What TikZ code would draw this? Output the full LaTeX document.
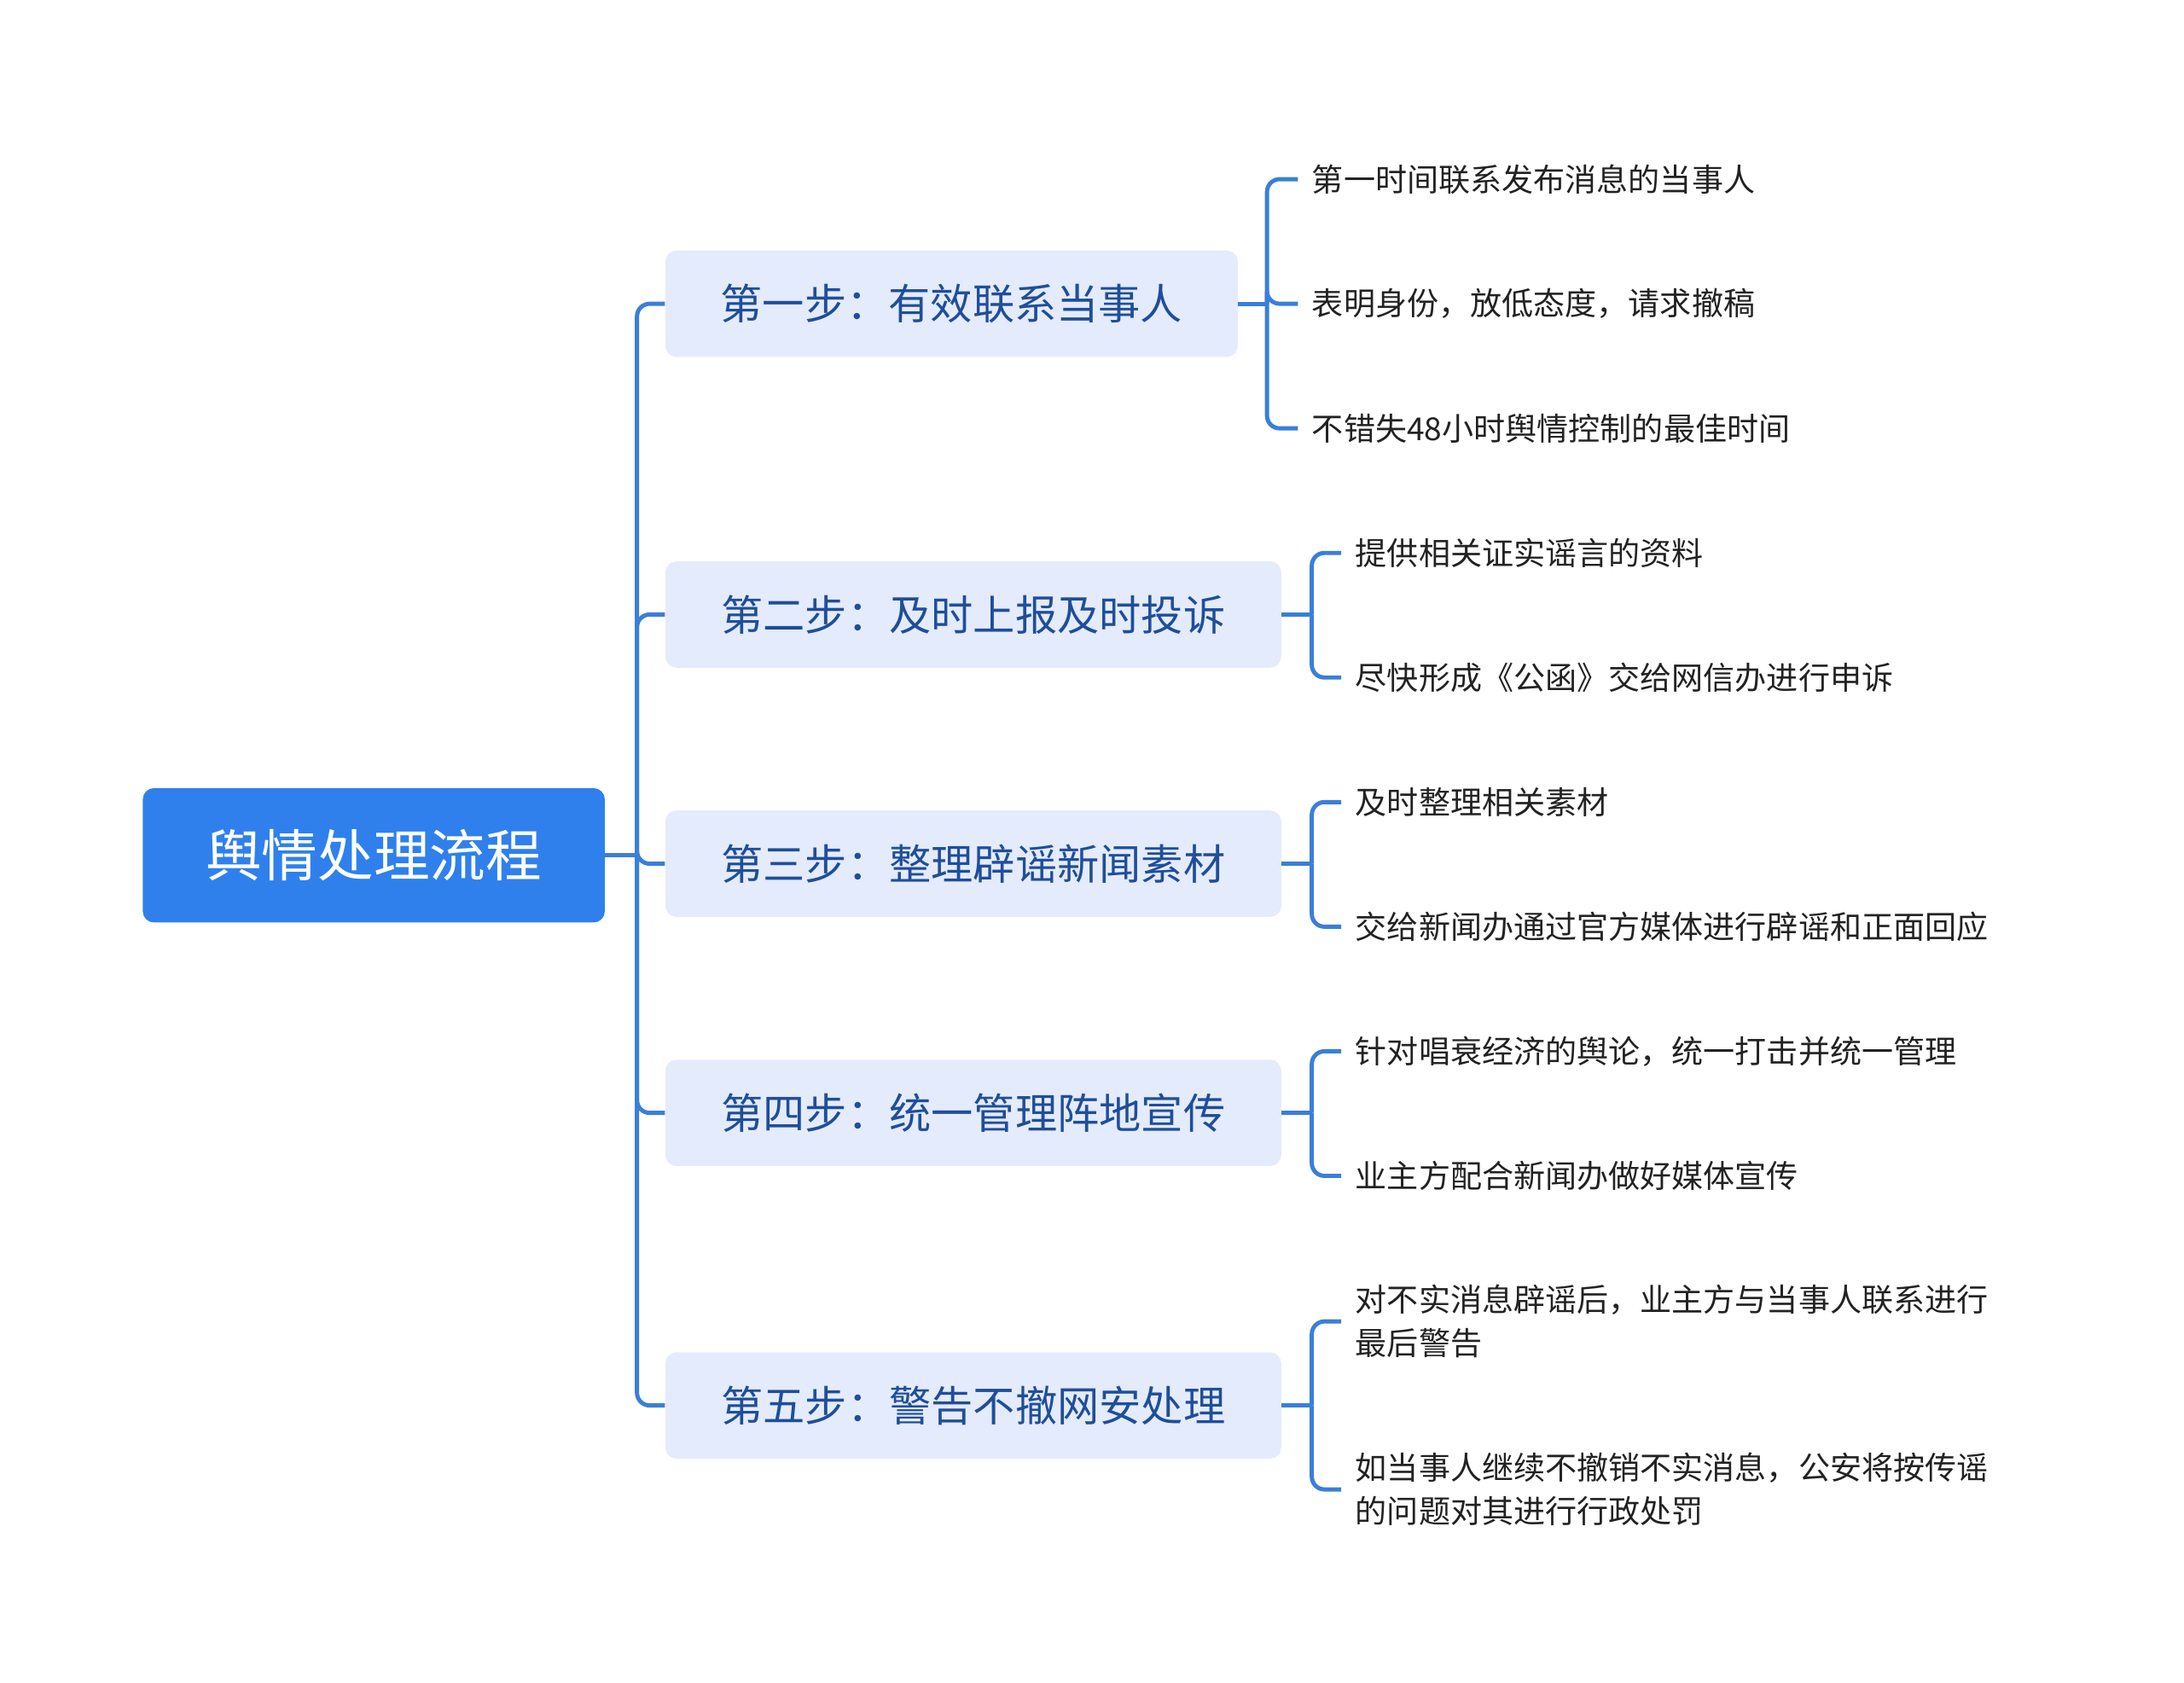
\documentclass[tikz,border=0pt]{standalone}
\usepackage{fontspec}
\setmainfont{Noto Sans CJK SC}
\begin{document}
\begin{tikzpicture}[x=1pt,y=-1pt,
  conn/.style={draw=linec,line width=3pt,rounded corners=9pt},
  rootbox/.style={fill=rootc,rounded corners=8pt,text=white,font=\fontsize{40}{48}\selectfont,minimum width=330pt,minimum height=96pt,inner sep=0pt},
  brbox/.style={fill=brc,rounded corners=8pt,text=brt,font=\fontsize{30}{36}\selectfont,minimum height=76pt,inner sep=0pt,anchor=west},
  leaf/.style={anchor=west,align=left,text=leaft,font=\fontsize{22.6}{31}\selectfont,inner sep=0pt}]
\definecolor{linec}{HTML}{3A7FD8}
\definecolor{rootc}{HTML}{2F80ED}
\definecolor{brc}{HTML}{E4EBFC}
\definecolor{brt}{HTML}{1F4E9A}
\definecolor{leaft}{HTML}{222222}
\useasboundingbox (0,0) rectangle (1560,1202);
\node[rootbox] (r) at (267,611) {舆情处理流程};
\node[brbox,minimum width=409pt] (b1) at (475,217) {第一步：有效联系当事人};
\node[brbox,minimum width=440pt] (b2) at (475,439) {第二步：及时上报及时投诉};
\node[brbox,minimum width=440pt] (b3) at (475,617) {第三步：整理辟谣新闻素材};
\node[brbox,minimum width=440pt] (b4) at (475,795) {第四步：统一管理阵地宣传};
\node[brbox,minimum width=440pt] (b5) at (475,1004) {第五步：警告不撤网安处理};
\coordinate (t) at (455,611);
\draw[conn] (r.east) -- (t);
\foreach \b in {b1,b2,b3,b4,b5} \draw[conn] (t) |- (\b.west);
\node[leaf] (l11) at (937,128) {第一时间联系发布消息的当事人};
\node[leaf] (l12) at (937,217) {表明身份，放低态度，请求撤稿};
\node[leaf] (l13) at (937,306) {不错失48小时舆情控制的最佳时间};
\node[leaf] (l21) at (968,395) {提供相关证实谣言的资料};
\node[leaf] (l22) at (968,484) {尽快形成《公函》交给网信办进行申诉};
\node[leaf] (l31) at (968,573) {及时整理相关素材};
\node[leaf] (l32) at (968,662) {交给新闻办通过官方媒体进行辟谣和正面回应};
\node[leaf] (l41) at (968,751) {针对唱衰经济的舆论，统一打击并统一管理};
\node[leaf] (l42) at (968,840) {业主方配合新闻办做好媒体宣传};
\node[leaf] (l51) at (968,944) {对不实消息辟谣后，业主方与当事人联系进行\\最后警告};
\node[leaf] (l52) at (968,1064) {如当事人继续不撤销不实消息，公安将按传谣\\的问题对其进行行政处罚};
\coordinate (c1) at (905,217);
\coordinate (c2) at (937,439);
\coordinate (c3) at (937,617);
\coordinate (c4) at (937,795);
\coordinate (c5) at (937,1004);
\draw[conn] (b1.east) -- (c1);
\foreach \l in {l11,l12,l13} \draw[conn] (c1) |- ([xshift=-10pt]\l.west);
\foreach \n/\a/\bb in {2/l21/l22,3/l31/l32,4/l41/l42,5/l51/l52}{
  \draw[conn] (b\n.east) -- (c\n);
  \draw[conn] (c\n) |- ([xshift=-10pt]\a.west);
  \draw[conn] (c\n) |- ([xshift=-10pt]\bb.west);
}
\end{tikzpicture}
\end{document}
